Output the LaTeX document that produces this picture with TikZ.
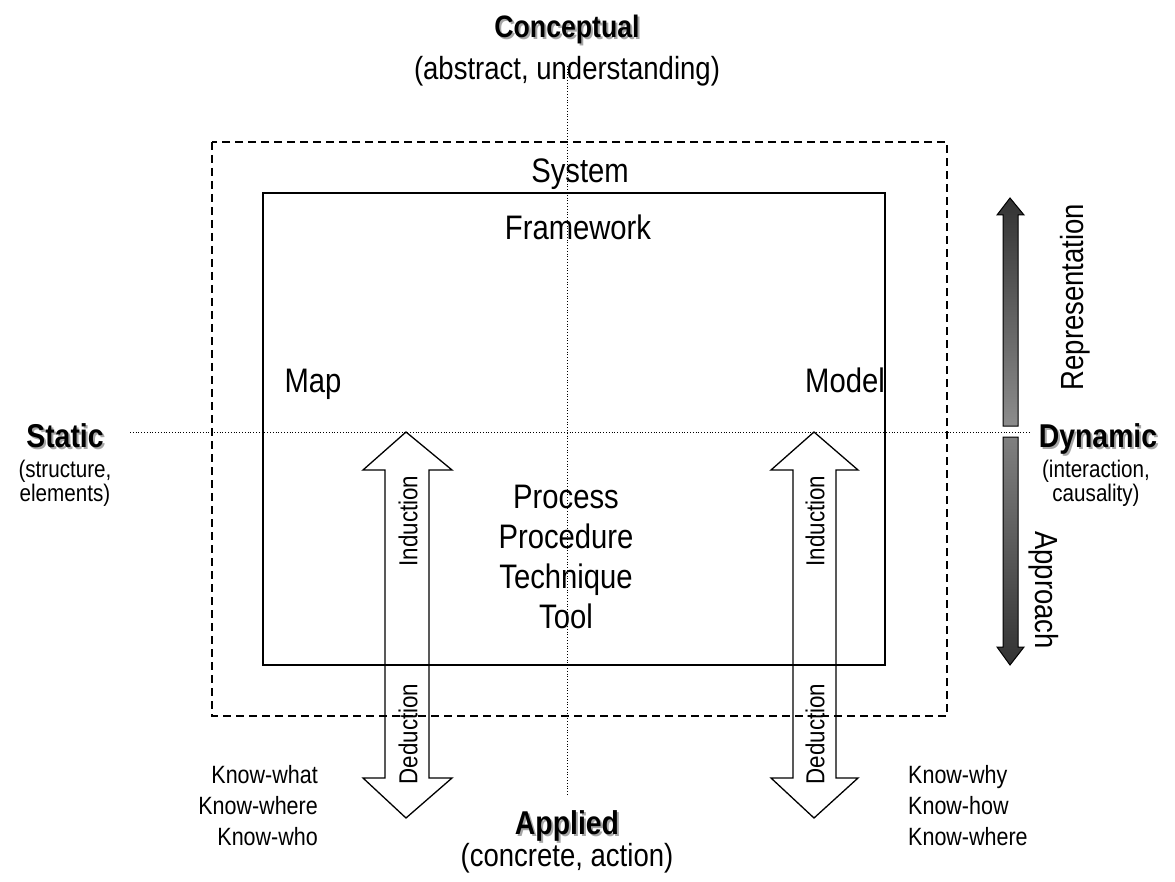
\documentclass[tikz,border=0pt]{standalone}
\usepackage{fontspec}
\setmainfont[FakeStretch=0.86]{Liberation Sans}
\begin{document}
\begin{tikzpicture}[x=1pt,y=-1pt,
  txt/.style={inner sep=0pt, anchor=base, font=\fontsize{34}{40}\selectfont},
  sub/.style={inner sep=0pt, anchor=base, font=\fontsize{32}{38}\selectfont},
  small/.style={inner sep=0pt, anchor=base, font=\fontsize{24}{28}\selectfont},
  know/.style={inner sep=0pt, font=\fontsize{25}{31}\selectfont},
  head/.style={inner sep=0pt, anchor=base, font=\fontsize{33}{38}\selectfont\bfseries},
  headshadow/.style={head, text=black!35},
  rot/.style={inner sep=0pt, font=\fontsize{26}{30}\selectfont},
  rotbig/.style={inner sep=0pt, font=\fontsize{32}{36}\selectfont},
  axis/.style={dotted, line width=0.8pt},
  darrow/.style={draw=black, line width=1.3pt, line join=miter},
  garrow/.style={draw=black, line width=1pt},
]
\useasboundingbox (0,0) rectangle (1175,882);

% boxes
\draw[line width=1.2pt, dash pattern=on 8pt off 5pt] (212,142) rectangle (947,716);
\draw[line width=1.2pt] (263,193) rectangle (885,665);

% axes
\draw[axis] (130,432) -- (1031,432);
\draw[axis] (567,66) -- (567,796);

% double arrows (transparent)
\draw[darrow] (385,470) -- (363,470) -- (406,432) -- (452,470) -- (429,470)
  -- (429,778) -- (452,778) -- (406,818) -- (363,778) -- (385,778) -- cycle;
\draw[darrow] (793,470) -- (771,470) -- (814,432) -- (858,470) -- (836,470)
  -- (836,778) -- (858,778) -- (814,818) -- (771,778) -- (793,778) -- cycle;

% gradient arrows
\path[garrow, top color=black!80, bottom color=black!45]
  (1003,426) -- (1003,215) -- (997,215) -- (1010,198) -- (1024,215) -- (1018,215) -- (1018,426) -- cycle;
\path[garrow, top color=black!50, bottom color=black!80]
  (1003,437) -- (1003,647) -- (997,647) -- (1010,665) -- (1024,647) -- (1018,647) -- (1018,437) -- cycle;

% titles with shadows
\node[headshadow, font=\fontsize{31}{36}\selectfont\bfseries] (cs) at (569,40) {Conceptual};
\node[head, font=\fontsize{31}{36}\selectfont\bfseries] (c) at (567,38) {Conceptual};
\node[sub] (cabs) at (567,80) {(abstract, understanding)};

\node[headshadow] (as) at (569,836) {Applied};
\node[head] (a) at (567,834) {Applied};
\node[sub] (aabs) at (567,866) {(concrete, action)};

\node[headshadow] (ss) at (67,449) {Static};
\node[head] (s) at (65,447) {Static};
\node[small] (s1) at (65,477) {(structure,};
\node[small] (s2) at (65,501) {elements)};

\node[headshadow] (ds) at (1100,449) {Dynamic};
\node[head] (d) at (1098,447) {Dynamic};
\node[small] (d1) at (1096,477) {(interaction,};
\node[small] (d2) at (1096,501) {causality)};

% inner labels
\node[txt] (sys) at (580,183) {System};
\node[txt] (fw) at (578,240) {Framework};
\node[txt] (map) at (313,392) {Map};
\node[txt] (model) at (845,392) {Model};
\node[txt] (p1) at (566,508) {Process};
\node[txt] (p2) at (566,548) {Procedure};
\node[txt] (p3) at (566,588) {Technique};
\node[txt] (p4) at (566,628) {Tool};

% rotated labels
\node[rot, rotate=90] (ind1) at (408,521) {Induction};
\node[rot, rotate=90] (ded1) at (408,734) {Deduction};
\node[rot, rotate=90] (ind2) at (815,521) {Induction};
\node[rot, rotate=90] (ded2) at (815,734) {Deduction};
\node[rotbig, rotate=90] (rep) at (1075,297) {Representation};
\node[rotbig, rotate=-90] (app) at (1044,590) {Approach};

% know lists
\node[know, anchor=base east] (k1) at (318,783) {Know-what};
\node[know, anchor=base east] (k2) at (318,814) {Know-where};
\node[know, anchor=base east] (k3) at (318,845) {Know-who};
\node[know, anchor=base west] (k4) at (908,783) {Know-why};
\node[know, anchor=base west] (k5) at (908,814) {Know-how};
\node[know, anchor=base west] (k6) at (908,845) {Know-where};
\end{tikzpicture}
\end{document}
